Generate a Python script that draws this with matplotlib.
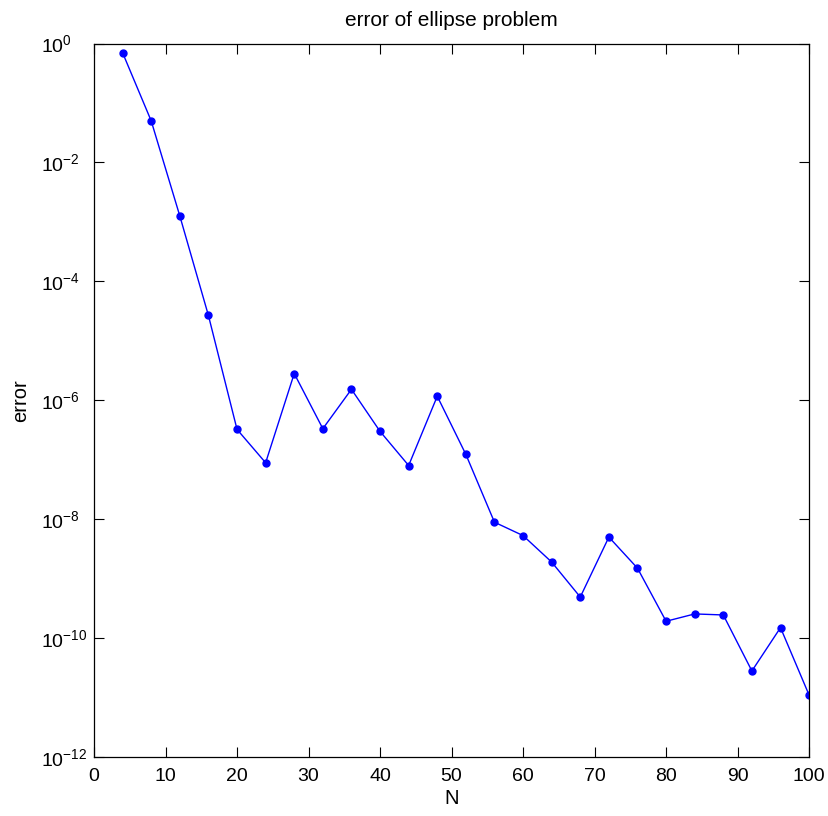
import matplotlib
matplotlib.use("Agg")
import matplotlib.pyplot as plt
from matplotlib.ticker import FixedLocator, NullLocator

# values
N = [4, 8, 12, 16, 20, 24, 28, 32, 36, 40, 44, 48, 52,
     56, 60, 64, 68, 72, 76, 80, 84, 88, 92, 96, 100]
err = [7.0e-1, 5.0e-2, 1.26e-3, 2.67e-5, 3.24e-7, 8.9e-8, 2.82e-6, 3.33e-7,
       1.53e-6, 3.0e-7, 8.0e-8, 1.17e-6, 1.23e-7, 8.9e-9, 5.3e-9, 1.9e-9,
       4.9e-10, 5.0e-9, 1.5e-9, 1.92e-10, 2.55e-10, 2.45e-10, 2.8e-11,
       1.5e-10, 1.1e-11]
yticks = [1e-12, 1e-10, 1e-8, 1e-6, 1e-4, 1e-2, 1e0]

plt.rcParams["font.family"] = ["Liberation Sans", "DejaVu Sans"]
plt.rcParams["mathtext.fontset"] = "custom"
plt.rcParams["mathtext.rm"] = "Liberation Sans"

fig = plt.figure(figsize=(8.29, 8.16), dpi=100)
ax = fig.add_axes([0.1134, 0.0723, 0.8626, 0.8743])
ax.semilogy(N, err, "-", color="#0000ff", lw=1.0, marker="o", ms=5, mec="#0000ff", mfc="#0000ff")

ax.set_xlim(0, 100)
ax.set_ylim(1e-12, 1e0)
ax.set_xticks(range(0, 101, 10))
ax.yaxis.set_major_locator(FixedLocator(yticks))
ax.yaxis.set_minor_locator(NullLocator())
ax.tick_params(direction="in", top=True, right=True, length=7, width=0.8, labelsize=14)
ax.tick_params(axis="x", pad=8)
# MATLAB-style: the "10" of every label lines up on the left
ax.tick_params(axis="y", pad=38)
for t in ax.get_yticklabels():
    t.set_horizontalalignment("left")
for s in ax.spines.values():
    s.set_linewidth(0.9)

ax.set_xlabel("N", fontsize=14.5, labelpad=3)
ax.set_ylabel("error", fontsize=14.5, labelpad=8)
ax.set_title("error of ellipse problem", fontsize=15, pad=13)

fig.savefig("out.png", dpi=100)
